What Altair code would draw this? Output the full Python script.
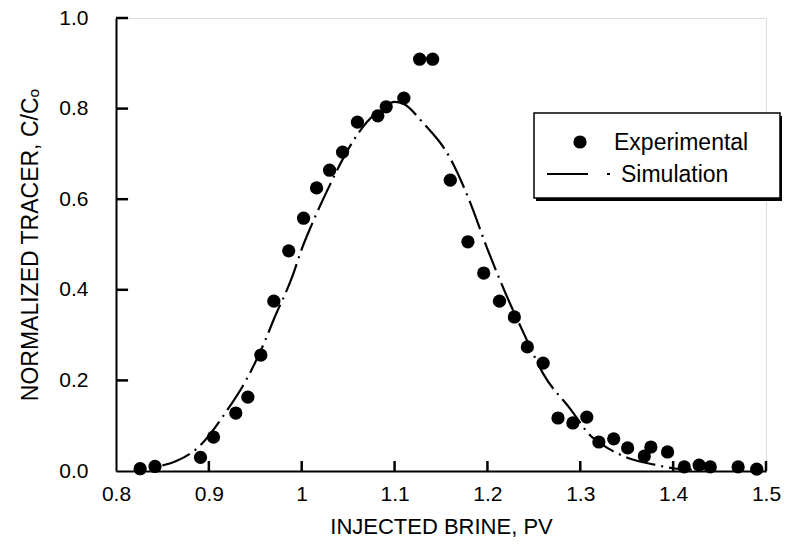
import altair as alt
import pandas as pd

exp_x = [0.826, 0.842, 0.891, 0.905, 0.929, 0.942, 0.956, 0.970, 0.986, 1.002,
         1.016, 1.030, 1.044, 1.060, 1.082, 1.091, 1.110, 1.127, 1.141, 1.160,
         1.179, 1.196, 1.213, 1.229, 1.243, 1.260, 1.276, 1.292, 1.307, 1.320,
         1.336, 1.351, 1.369, 1.376, 1.394, 1.412, 1.428, 1.440, 1.470, 1.490]
exp_y = [0.005, 0.010, 0.030, 0.075, 0.128, 0.163, 0.256, 0.375, 0.486, 0.558,
         0.625, 0.664, 0.704, 0.770, 0.784, 0.804, 0.823, 0.909, 0.909, 0.642,
         0.506, 0.437, 0.375, 0.340, 0.274, 0.238, 0.117, 0.106, 0.119, 0.064,
         0.071, 0.051, 0.033, 0.053, 0.042, 0.009, 0.013, 0.009, 0.009, 0.004]

# Simulation curve
sim_x = [0.850, 0.865, 0.890, 0.920, 0.940, 0.960, 0.970, 0.990, 1.000, 1.010,
         1.030, 1.050, 1.070, 1.090, 1.100, 1.110, 1.130, 1.160, 1.180, 1.200,
         1.220, 1.240, 1.260, 1.290, 1.310, 1.330, 1.350, 1.380, 1.400, 1.420]
sim_y = [0.012, 0.022, 0.055, 0.135, 0.200, 0.285, 0.335, 0.430, 0.490, 0.540,
         0.630, 0.710, 0.770, 0.805, 0.815, 0.810, 0.770, 0.690, 0.600, 0.490,
         0.390, 0.300, 0.215, 0.135, 0.080, 0.050, 0.030, 0.014, 0.006, 0.003]

x_ticks = [0.9, 1.0, 1.1, 1.2, 1.3, 1.4, 1.5]
y_ticks = [0.2, 0.4, 0.6, 0.8, 1.0]
legend_labels = ["Experimental", "Simulation"]

W, H = 650, 453
FONT = "Liberation Sans"
X_TICK_LEN = 0.022   # in y data units (about 10 px)
Y_TICK_LEN = 0.013   # in x data units (about 12 px)

exp_df = pd.DataFrame({"x": exp_x, "y": exp_y})
sim_df = pd.DataFrame({"x": sim_x, "y": sim_y})
xt_df = pd.DataFrame({"x": x_ticks, "y": [0.0] * len(x_ticks), "y2": [X_TICK_LEN] * len(x_ticks)})
yt_df = pd.DataFrame({"y": y_ticks, "x": [0.8] * len(y_ticks), "x2": [0.8 + Y_TICK_LEN] * len(y_ticks)})
one = pd.DataFrame({"a": [0]})

xscale = alt.Scale(domain=[0.8, 1.5], nice=False, zero=False)
yscale = alt.Scale(domain=[0.0, 1.0], nice=False)

xaxis = alt.Axis(title="INJECTED BRINE, PV", values=[0.8, 0.9, 1.0, 1.1, 1.2, 1.3, 1.4, 1.5],
                 labelExpr="datum.value == 1 ? '1' : format(datum.value, '.1f')",
                 ticks=False, grid=False, domainColor="black", domainWidth=2,
                 labelFontSize=21, labelColor="black", labelFont=FONT, labelPadding=12,
                 titleFontSize=22, titleFont=FONT, titleFontWeight="normal", titleColor="black",
                 titlePadding=12, labelFlush=False, labelOverlap=False)
yaxis = alt.Axis(title="NORMALIZED TRACER, C/Cₒ", values=[0.0, 0.2, 0.4, 0.6, 0.8, 1.0],
                 format=".1f", ticks=False, grid=False, domainColor="black", domainWidth=2,
                 labelFontSize=21, labelColor="black", labelFont=FONT, labelPadding=28,
                 titleFontSize=23, titleFont=FONT, titleFontWeight="normal", titleColor="black",
                 titlePadding=16, labelFlush=False, labelOverlap=False)

points = alt.Chart(exp_df).mark_point(filled=True, color="black", size=175, opacity=1, shape="circle").encode(
    x=alt.X("x:Q", scale=xscale, axis=xaxis),
    y=alt.Y("y:Q", scale=yscale, axis=yaxis),
)

line = alt.Chart(sim_df).mark_line(color="black", strokeWidth=2.2, strokeDash=[30, 6, 2, 6],
                                   interpolate="monotone").encode(
    x=alt.X("x:Q", scale=xscale),
    y=alt.Y("y:Q", scale=yscale),
)

# inward ticks
xticks = alt.Chart(xt_df).mark_rule(color="black", strokeWidth=2.5).encode(
    x=alt.X("x:Q", scale=xscale),
    y=alt.Y("y:Q", scale=yscale),
    y2=alt.Y2("y2:Q"),
)
yticks = alt.Chart(yt_df).mark_rule(color="black", strokeWidth=2.5).encode(
    y=alt.Y("y:Q", scale=yscale),
    x=alt.X("x:Q", scale=xscale),
    x2=alt.X2("x2:Q"),
)

# Legend box
LX0, LX1, LY0, LY1 = 418, 664, 95, 180
shadow = alt.Chart(one).mark_rect(color="black").encode(
    x=alt.value(LX0 + 2), x2=alt.value(LX1 + 2), y=alt.value(LY0 + 3), y2=alt.value(LY1 + 3))
box = alt.Chart(one).mark_rect(fill="white", stroke="black", strokeWidth=1.5).encode(
    x=alt.value(LX0), x2=alt.value(LX1), y=alt.value(LY0), y2=alt.value(LY1))
leg_dot = alt.Chart(one).mark_point(filled=True, color="black", size=175, opacity=1).encode(
    x=alt.value(464), y=alt.value(124))
leg_line = alt.Chart(one).mark_rule(color="black", strokeWidth=2).encode(
    x=alt.value(431), x2=alt.value(472), y=alt.value(156))
leg_tick = alt.Chart(one).mark_rule(color="black", strokeWidth=2).encode(
    x=alt.value(491), x2=alt.value(494), y=alt.value(156))
leg_t1 = alt.Chart(one).mark_text(text=legend_labels[0], align="left", baseline="middle",
                                  fontSize=23, font=FONT, color="black").encode(
    x=alt.value(498), y=alt.value(125))
leg_t2 = alt.Chart(one).mark_text(text=legend_labels[1], align="left", baseline="middle",
                                  fontSize=23, font=FONT, color="black").encode(
    x=alt.value(505), y=alt.value(157))

chart = alt.layer(line, points, xticks, yticks, shadow, box, leg_dot, leg_line, leg_tick,
                  leg_t1, leg_t2).properties(
    width=W, height=H,
    autosize=alt.AutoSizeParams(type="none"),
    padding={"left": 116, "top": 18, "right": 22, "bottom": 78},
).configure_view(stroke=None).configure(background="white")

chart.save("out.html", embed_options={"renderer": "svg", "actions": False})
